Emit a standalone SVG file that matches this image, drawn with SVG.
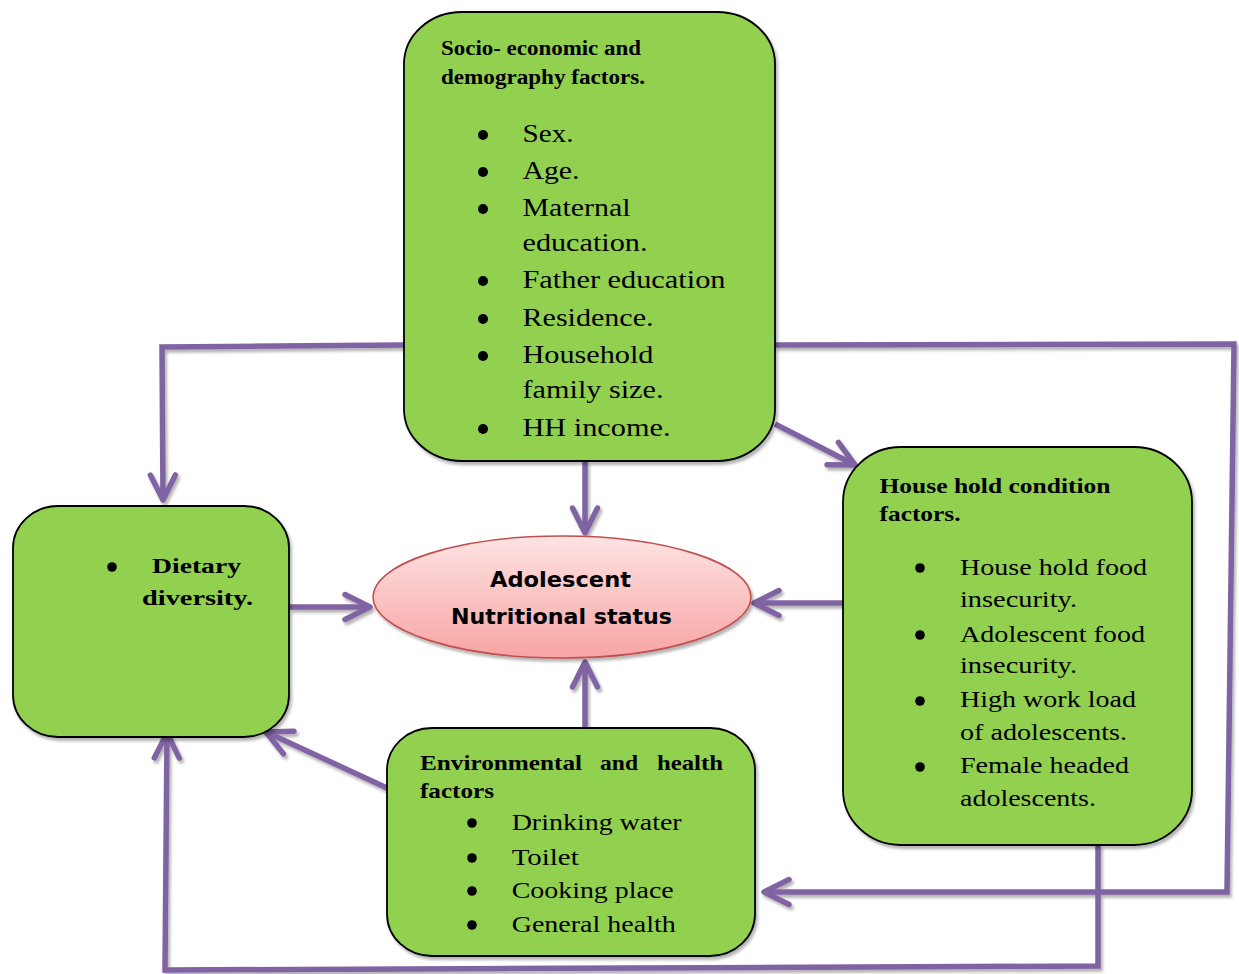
<svg xmlns="http://www.w3.org/2000/svg" width="1239" height="974" viewBox="0 0 1239 974">
  <style>
    .box { fill: #92D050; stroke: #000; stroke-width: 1.8; }
    .t { font-family: "Liberation Serif", "Times New Roman", serif; fill: #000; }
    .h { font-weight: bold; }
    .b26 { font-size: 26px; }
    .b24 { font-size: 24px; }
    .c { stroke: #8064A2; stroke-width: 5.5; fill: none; stroke-linejoin: miter; }
    .dot { fill: #000; }
    .e { font-family: "DejaVu Sans", Verdana, sans-serif; font-weight: bold; font-size: 21px; fill: #000; }
  </style>
  <defs>
    <filter id="sh" x="-10%" y="-10%" width="120%" height="120%">
      <feDropShadow dx="2" dy="3" stdDeviation="1.8" flood-color="#000" flood-opacity="0.3"/>
    </filter>
    <linearGradient id="pink" x1="0" y1="0" x2="0" y2="1">
      <stop offset="0" stop-color="#FDE3E3"/>
      <stop offset="1" stop-color="#F8A4A4"/>
    </linearGradient>
    <marker id="arr" viewBox="-30 -16 34 32" refX="0" refY="0" markerWidth="34" markerHeight="32" markerUnits="userSpaceOnUse" orient="auto">
      <path d="M-25,-12.5 L0,0 L-25,12.5" fill="none" stroke="#8064A2" stroke-width="5.5" stroke-linecap="round" stroke-linejoin="round"/>
    </marker>
  </defs>

  <g id="connectors" filter="url(#sh)">
    <path class="c" d="M404,345 L162,347 L163,500" marker-end="url(#arr)"/>
    <path class="c" d="M775,345 L1234,344 L1227,892 L764,892" marker-end="url(#arr)"/>
    <path class="c" d="M585,461 L585,533" marker-end="url(#arr)"/>
    <path class="c" d="M775,424 L855,465" marker-end="url(#arr)"/>
    <path class="c" d="M290,607 L370,607" marker-end="url(#arr)"/>
    <path class="c" d="M843,603 L754,603" marker-end="url(#arr)"/>
    <path class="c" d="M585,728 L585,662" marker-end="url(#arr)"/>
    <path class="c" d="M387,788 L266,732" marker-end="url(#arr)"/>
    <path class="c" d="M1098,845 L1098,966 L165,970 L167,733" marker-end="url(#arr)"/>
  </g>

  <g id="socio">
    <rect class="box" x="404" y="12" width="371" height="449" rx="58" ry="52" filter="url(#sh)"/>
    <text class="t h" font-size="20" x="441" y="55" textLength="200" lengthAdjust="spacingAndGlyphs">Socio- economic and</text>
    <text class="t h" font-size="20" x="441" y="84" textLength="204" lengthAdjust="spacingAndGlyphs">demography factors.</text>
    <circle class="dot" cx="483" cy="135" r="5"/>
    <text class="t b26" x="522.5" y="142" textLength="51" lengthAdjust="spacingAndGlyphs">Sex.</text>
    <circle class="dot" cx="483" cy="172" r="5"/>
    <text class="t b26" x="522.5" y="179" textLength="57" lengthAdjust="spacingAndGlyphs">Age.</text>
    <circle class="dot" cx="483" cy="209" r="5"/>
    <text class="t b26" x="522.5" y="216" textLength="108" lengthAdjust="spacingAndGlyphs">Maternal</text>
    <text class="t b26" x="522.5" y="251" textLength="125" lengthAdjust="spacingAndGlyphs">education.</text>
    <circle class="dot" cx="483" cy="281" r="5"/>
    <text class="t b26" x="522.5" y="288" textLength="203" lengthAdjust="spacingAndGlyphs">Father education</text>
    <circle class="dot" cx="483" cy="319" r="5"/>
    <text class="t b26" x="522.5" y="326" textLength="131" lengthAdjust="spacingAndGlyphs">Residence.</text>
    <circle class="dot" cx="483" cy="356" r="5"/>
    <text class="t b26" x="522.5" y="363" textLength="131" lengthAdjust="spacingAndGlyphs">Household</text>
    <text class="t b26" x="522.5" y="398" textLength="141" lengthAdjust="spacingAndGlyphs">family size.</text>
    <circle class="dot" cx="483" cy="429" r="5"/>
    <text class="t b26" x="522.5" y="436" textLength="148" lengthAdjust="spacingAndGlyphs">HH income.</text>
  </g>

  <g id="dietary">
    <rect class="box" x="13" y="506" width="276" height="231" rx="45" ry="42" filter="url(#sh)"/>
    <circle class="dot" cx="112" cy="567" r="4.8"/>
    <text class="t h" font-size="22" x="152" y="573" textLength="89" lengthAdjust="spacingAndGlyphs">Dietary</text>
    <text class="t h" font-size="22" x="142" y="605" textLength="111" lengthAdjust="spacingAndGlyphs">diversity.</text>
  </g>

  <g id="outcome">
    <ellipse cx="562" cy="597" rx="189" ry="61" fill="url(#pink)" stroke="#C0504D" stroke-width="1.6" filter="url(#sh)"/>
    <text class="e" x="490" y="587" textLength="141" lengthAdjust="spacingAndGlyphs">Adolescent</text>
    <text class="e" x="451" y="624" textLength="221" lengthAdjust="spacingAndGlyphs">Nutritional status</text>
  </g>

  <g id="household">
    <rect class="box" x="843" y="447" width="349" height="398" rx="58" ry="55" filter="url(#sh)"/>
    <text class="t h" font-size="22" x="879.5" y="493" textLength="231" lengthAdjust="spacingAndGlyphs">House hold condition</text>
    <text class="t h" font-size="22" x="879.5" y="521" textLength="81" lengthAdjust="spacingAndGlyphs">factors.</text>
    <circle class="dot" cx="920" cy="568" r="4.8"/>
    <text class="t b24" x="960" y="575" textLength="187" lengthAdjust="spacingAndGlyphs">House hold food</text>
    <text class="t b24" x="960" y="607" textLength="117" lengthAdjust="spacingAndGlyphs">insecurity.</text>
    <circle class="dot" cx="920" cy="635" r="4.8"/>
    <text class="t b24" x="960" y="642" textLength="185" lengthAdjust="spacingAndGlyphs">Adolescent food</text>
    <text class="t b24" x="960" y="673" textLength="117" lengthAdjust="spacingAndGlyphs">insecurity.</text>
    <circle class="dot" cx="920" cy="701" r="4.8"/>
    <text class="t b24" x="960" y="707" textLength="176" lengthAdjust="spacingAndGlyphs">High work load</text>
    <text class="t b24" x="960" y="740" textLength="167" lengthAdjust="spacingAndGlyphs">of adolescents.</text>
    <circle class="dot" cx="920" cy="767" r="4.8"/>
    <text class="t b24" x="960" y="773" textLength="169" lengthAdjust="spacingAndGlyphs">Female headed</text>
    <text class="t b24" x="960" y="806" textLength="136" lengthAdjust="spacingAndGlyphs">adolescents.</text>
  </g>

  <g id="environment">
    <rect class="box" x="387" y="728" width="368" height="228" rx="45" ry="42" filter="url(#sh)"/>
    <text class="t h" font-size="22" x="420" y="770" textLength="162" lengthAdjust="spacingAndGlyphs">Environmental</text>
    <text class="t h" font-size="22" x="600" y="770" textLength="38" lengthAdjust="spacingAndGlyphs">and</text>
    <text class="t h" font-size="22" x="657" y="770" textLength="66" lengthAdjust="spacingAndGlyphs">health</text>
    <text class="t h" font-size="22" x="420" y="798" textLength="74" lengthAdjust="spacingAndGlyphs">factors</text>
    <circle class="dot" cx="472" cy="823" r="4.8"/>
    <text class="t b24" x="511.7" y="830" textLength="170" lengthAdjust="spacingAndGlyphs">Drinking water</text>
    <circle class="dot" cx="472" cy="858" r="4.8"/>
    <text class="t b24" x="511.7" y="865" textLength="67" lengthAdjust="spacingAndGlyphs">Toilet</text>
    <circle class="dot" cx="472" cy="891" r="4.8"/>
    <text class="t b24" x="511.7" y="898" textLength="162" lengthAdjust="spacingAndGlyphs">Cooking place</text>
    <circle class="dot" cx="472" cy="925" r="4.8"/>
    <text class="t b24" x="511.7" y="932" textLength="164" lengthAdjust="spacingAndGlyphs">General health</text>
  </g>
</svg>
